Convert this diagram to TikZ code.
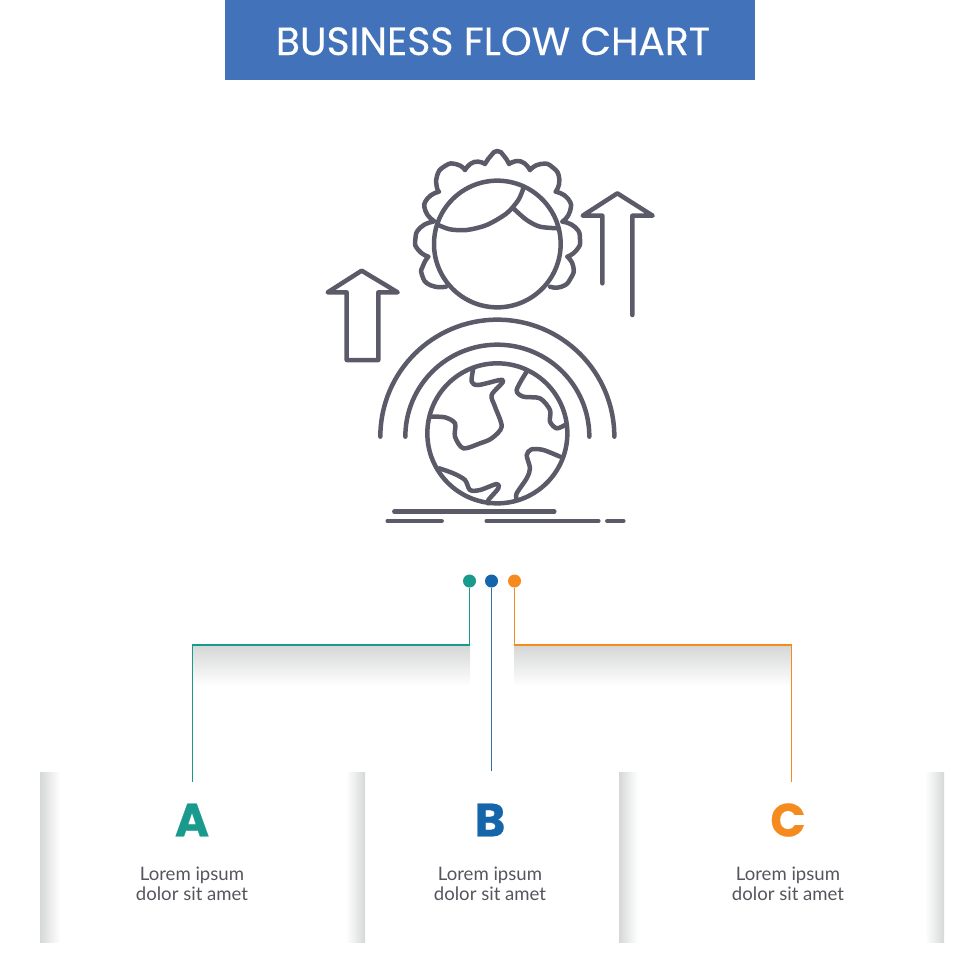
\documentclass[tikz,border=0pt]{standalone}
\usepackage{fontspec}
\usepackage{xcolor}
\setmainfont{Lato}
\newfontfamily\titlefont[FakeBold=0.25]{Poppins}
\newfontfamily\letterfont[UprightFont=* Bold,FakeBold=0.6]{Poppins}
\definecolor{bannerblue}{HTML}{4273BA}
\definecolor{iconline}{HTML}{5A5A68}
\definecolor{textgray}{HTML}{55555D}
\definecolor{tealc}{HTML}{1A9A8C}
\definecolor{bluec}{HTML}{1565AB}
\definecolor{orangec}{HTML}{F58A1F}
\definecolor{shadowc}{HTML}{D6D8D8}

\begin{document}
\begin{tikzpicture}[
      x=0.025cm,y=-0.025cm,
      banner/.style={fill=bannerblue,minimum width=13.225cm,minimum height=2cm,inner sep=0pt,text=white,text height=0.75cm,text depth=0pt,font=\titlefont\fontsize{28}{32}\selectfont},
      icon/.style={draw=iconline,line width=3.2pt,line cap=round,line join=round},
      curl/.style={smooth,tension=1},
      dot/.style={circle,minimum size=0.325cm,inner sep=0pt},
      letter/.style={font=\letterfont\fontsize{33}{40}\selectfont},
      body/.style={align=center,text=textgray,font=\fontsize{13.2}{14.2}\selectfont},
      link/.style={line width=1.4pt}
    ]
      \useasboundingbox (0,0) rectangle (980,980);

      \node[banner] (title) at (490,40) {\hspace*{0.15cm}BUSINESS FLOW CHART};

      \begin{scope}[shift={(310,140)},x=0.025cm/3,y=-0.025cm/3]
        \draw[icon] (562,312) circle[radius=190];
        \draw[icon] plot[curl] coordinates {(408,440) (362,436) (336,405) (340,375) (355,350)}
          plot[curl] coordinates {(355,350) (325,330) (316,298) (332,262) (370,245)}
          plot[curl] coordinates {(372,243) (346,212) (352,176) (387,155)}
          plot[curl] coordinates {(385,155) (380,112) (405,78) (440,73) (465,90)}
          plot[curl] coordinates {(465,90) (492,66) (525,72)}
          plot[curl] coordinates {(525,72) (542,48) (562,33) (582,48) (597,72)}
          plot[curl] coordinates {(597,72) (632,64) (660,90)}
          plot[curl] coordinates {(660,90) (692,72) (728,82) (748,118) (737,155)}
          plot[curl] coordinates {(737,155) (774,176) (780,214) (757,245)}
          plot[curl] coordinates {(757,245) (796,262) (810,298) (800,330) (772,350)}
          plot[curl] coordinates {(772,350) (790,380) (782,415) (755,440) (720,440)};
        \draw[icon] plot[smooth] coordinates {(385,255) (420,268) (470,270) (530,255) (590,220) (625,180) (640,145)};
        \draw[icon] plot[smooth] coordinates {(610,205) (650,240) (690,260) (745,265)};

        \draw[icon] (53,457) -- (155,392) -- (263,457) -- (205,457) -- (205,660) -- (110,660) -- (110,457) -- cycle;
        \draw[icon] (877,430) -- (877,227) -- (818,227) -- (922,160) -- (1028,227) -- (967,227) -- (967,525);

        \draw[icon] (211,890) arc[start angle=180,end angle=360,radius=351];
        \draw[icon] (286,890) arc[start angle=180,end angle=360,radius=276];

        \draw[icon] (562,880) circle[radius=210];
        \draw[icon] plot[smooth] coordinates {(490,685) (485,725) (505,735) (570,720) (578,727) (545,765) (555,800) (575,860) (545,895) (510,910) (460,925) (435,890) (435,850) (405,832) (362,830)};
        \draw[icon] plot[smooth] coordinates {(650,695) (620,750) (640,770) (690,775) (720,810) (720,845) (740,865) (765,855)};
        \draw[icon] plot[smooth] coordinates {(750,950) (700,930) (665,928) (650,945) (660,985) (650,1015) (620,1060) (620,1078)};
        \draw[icon] plot[smooth] coordinates {(388,985) (430,1000) (465,1020) (480,1050) (510,1050) (560,1032) (565,1045) (535,1080) (535,1090)};

        \draw[icon] (253,1115) -- (733,1115);
        \draw[icon] (233,1143) -- (395,1143);
        \draw[icon] (530,1143) -- (865,1143);
        \draw[icon] (892,1143) -- (940,1143);
      \end{scope}

      \shade[top color=shadowc,bottom color=white] (193,646) rectangle (470,686);
      \shade[top color=shadowc,bottom color=white] (514,646) rectangle (791,686);

      \shade[left color=shadowc,right color=white] (40,772) rectangle (60,942);
      \shade[left color=white,right color=shadowc] (346,772) rectangle (365,942);
      \shade[left color=shadowc,right color=white] (619,772) rectangle (638,942);
      \shade[left color=white,right color=shadowc] (925,772) rectangle (944,942);

      \node[dot,fill=tealc] (dota) at (469.5,581) {};
      \node[dot,fill=bluec] (dotb) at (491.5,581) {};
      \node[dot,fill=orangec] (dotc) at (514.5,581) {};

      \coordinate (turna) at (192.5,645);
      \coordinate (enda) at (192.5,782);
      \coordinate (endb) at (491.5,771);
      \coordinate (turnc) at (791.5,645);
      \coordinate (endc) at (791.5,782);

      \draw[link,draw=tealc] (dota) |- (turna) -- (enda);
      \draw[link,draw=bluec!70!gray] (dotb) -- (endb);
      \draw[link,draw=orangec] (dotc) |- (turnc) -- (endc);

      \node[letter,text=tealc] (lettera) at (192,820) {A};
      \node[letter,text=bluec] (letterb) at (490,820) {B};
      \node[letter,text=orangec] (letterc) at (788,820) {C};

      \node[body] (texta) at (192,884) {Lorem ipsum\\dolor sit amet};
      \node[body] (textb) at (490,884) {Lorem ipsum\\dolor sit amet};
      \node[body] (textc) at (788,884) {Lorem ipsum\\dolor sit amet};
    \end{tikzpicture}
\end{document}
